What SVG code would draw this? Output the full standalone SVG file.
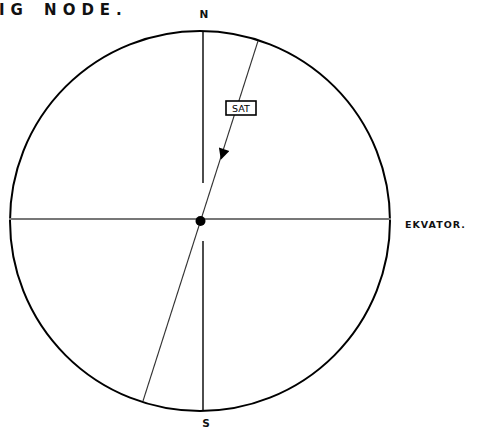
<svg xmlns="http://www.w3.org/2000/svg" width="477" height="428" viewBox="0 0 477 428">
<style>
.lbl{font-family:"DejaVu Sans",sans-serif;font-weight:bold;fill:#111}
</style>
<defs>
<marker id="arr" viewBox="0 0 10 10" refX="5" refY="5" markerWidth="12" markerHeight="11" markerUnits="userSpaceOnUse" orient="auto">
<path d="M0,0 L10,5 L0,10 z" fill="#000"/>
</marker>
</defs>
<rect width="477" height="428" fill="#fff"/>
<text class="lbl" x="-1" y="15" font-size="15" letter-spacing="6" word-spacing="4">IG NODE.</text>
<g id="sphere">
<circle cx="200" cy="221" r="190" fill="none" stroke="#000" stroke-width="2"/>
</g>
<g id="connectors">
<line x1="9" y1="219" x2="391" y2="219" stroke="#777" stroke-width="1.8"/>
<line x1="203" y1="32" x2="203" y2="183" stroke="#000" stroke-width="1.4"/>
<line x1="203" y1="241" x2="203" y2="411" stroke="#000" stroke-width="1.4"/>
<line x1="258" y1="41" x2="143" y2="401" stroke="#333" stroke-width="1.1"/>
<line x1="225.5" y1="145" x2="222.5" y2="154.5" stroke="none" marker-end="url(#arr)"/>
</g>
<g id="sat">
<rect x="226" y="101" width="30" height="14" fill="#fff" stroke="#000" stroke-width="1.6"/>
<text x="241" y="112" font-family="DejaVu Sans,sans-serif" font-size="9.5" text-anchor="middle" fill="#000">SAT</text>
</g>
<g id="node">
<circle cx="200.5" cy="221" r="5" fill="#000"/>
</g>
<g id="labels">
<text class="lbl" x="204" y="18" font-size="10.5" text-anchor="middle">N</text>
<text class="lbl" x="206" y="427" font-size="10.5" text-anchor="middle">S</text>
<text class="lbl" x="405" y="227.5" font-size="9.5" letter-spacing="1">EKVATOR.</text>
</g>
</svg>
